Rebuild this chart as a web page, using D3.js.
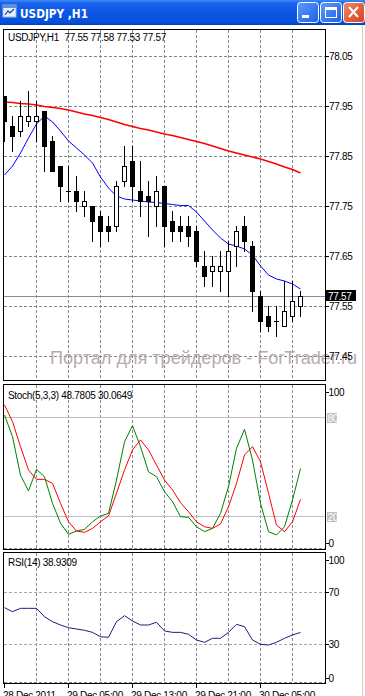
<!DOCTYPE html>
<html><head><meta charset="utf-8">
<script src="https://cdn.jsdelivr.net/npm/d3@7"></script>
<style>
html,body{margin:0;padding:0;background:#fff;overflow:hidden}
svg{display:block}
text{font-family:"Liberation Sans",Arial,sans-serif;}
</style>
</head><body>
<svg id="c" width="365" height="696"></svg>
<script>
// ---------- DATA ----------
const symbolTitle = "USDJPY ,H1";
const paneTitle = "USDJPY,H1";
const ohlcText = "77.55 77.58 77.53 77.57";
const openP  = [77.97,77.91,77.90,77.92,77.92,77.94,77.88,77.83,77.78,77.78,77.75,77.75,77.73,77.71,77.71,77.80,77.84,77.78,77.77,77.75,77.79,77.72,77.71,77.71,77.70,77.63,77.62,77.62,77.62,77.67,77.71,77.67,77.57,77.53,77.52,77.51,77.53,77.55];
const highP  = [77.97,77.93,77.96,77.98,77.96,77.94,77.89,77.83,77.83,77.81,77.78,77.75,77.74,77.73,77.80,77.87,77.87,77.84,77.80,77.81,77.79,77.74,77.73,77.73,77.71,77.66,77.65,77.66,77.68,77.71,77.73,77.68,77.58,77.55,77.55,77.60,77.60,77.58];
const lowP   = [77.88,77.86,77.89,77.91,77.88,77.82,77.82,77.76,77.76,77.74,77.73,77.68,77.67,77.68,77.70,77.79,77.76,77.73,77.69,77.71,77.67,77.68,77.68,77.67,77.63,77.59,77.59,77.58,77.57,77.63,77.66,77.54,77.50,77.50,77.49,77.51,77.52,77.53];
const closeP = [77.92,77.89,77.93,77.93,77.93,77.87,77.82,77.79,77.78,77.76,77.76,77.72,77.70,77.70,77.79,77.83,77.79,77.76,77.76,77.78,77.71,77.70,77.70,77.69,77.64,77.61,77.63,77.63,77.66,77.70,77.68,77.58,77.52,77.51,77.52,77.54,77.56,77.57];
const maFast = [77.812,77.830,77.856,77.886,77.914,77.930,77.918,77.900,77.880,77.866,77.852,77.836,77.808,77.786,77.770,77.764,77.762,77.760,77.758,77.757,77.755,77.753,77.751,77.751,77.738,77.720,77.702,77.686,77.674,77.670,77.664,77.652,77.630,77.612,77.604,77.600,77.594,77.584];
const maSlow = [77.958,77.957,77.955,77.954,77.952,77.949,77.947,77.945,77.942,77.938,77.934,77.931,77.927,77.923,77.918,77.913,77.909,77.905,77.902,77.898,77.894,77.891,77.887,77.883,77.879,77.875,77.870,77.865,77.860,77.856,77.852,77.848,77.844,77.839,77.834,77.828,77.823,77.816];
const stochMain = [81.2,68.1,44.8,35.2,48.3,43.8,27.7,15.6,8.9,10.9,11.9,16.5,20.0,21.6,41.8,65.0,74.7,62.0,46.8,43.8,34.7,28.7,19.6,19.2,13.5,10.5,12.5,21.6,37.8,61.0,72.5,53.9,27.7,10.5,8.5,13.5,29.7,48.78];
const stochSignal = [87.3,77.2,62.0,47.9,42.2,42.2,39.8,27.7,16.5,10.9,10.1,12.5,16.5,20.0,33.8,47.9,60.0,66.1,60.0,50.9,41.8,35.8,28.1,22.6,16.5,13.5,12.5,15.2,25.6,39.8,57.0,62.0,52.9,33.8,14.5,10.5,16.5,30.06];
const rsiVals = [58.1,55.0,57.6,57.6,57.6,51.1,47.3,44.7,42.6,41.6,40.6,39.0,35.6,35.2,47.3,51.9,47.8,44.7,44.7,46.8,40.1,39.0,39.0,37.5,33.1,31.3,34.4,34.4,39.0,45.2,43.4,33.1,29.8,29.2,31.3,34.4,37.0,38.93];
const priceTicks = [78.05,77.95,77.85,77.75,77.65,77.55,77.45];
const lastPrice = 77.57;
const stochLevels = [80,20];
const stochTitle = "Stoch(5,3,3) 48.7805 30.0649";
const rsiLevels = [70,30];
const rsiTitle = "RSI(14) 38.9309";
const timeTickIdx = [0,8,16,24,32];
const timeLabels = ["28 Dec 2011","29 Dec 05:00","29 Dec 13:00","29 Dec 21:00","30 Dec 05:00"];
const gridIdx = [4,8,12,16,20,24,28,32,36];
const watermark = "Портал для трейдеров - ForTrader.ru";

// ---------- LAYOUT ----------
const svg = d3.select("#c");
const L = 3, R = 325;
const main = {top:29, bottom:380};
const stP = {top:384, bottom:549};
const rsP = {top:552, bottom:683};
const gridCol = "#7a8898";

const x = d3.scaleLinear().domain([0,37]).range([4.5,300.5]);
const y = d3.scaleLinear().domain([77.45,78.05]).range([356,56]);
const ys = d3.scaleLinear().domain([0,100]).range([549,384]);
const yr = d3.scaleLinear().domain([0,100]).range([682.75,553.55]);
const px = v => Math.round(v) + 0.5;

// ---------- TITLE BAR ----------
const defs = svg.append("defs");
const tg = defs.append("linearGradient").attr("id","tb").attr("x1",0).attr("y1",0).attr("x2",0).attr("y2",1);
[["0%","#3b8cf8"],["12%","#1a64ec"],["50%","#0a56e4"],["88%","#0752dc"],["100%","#0340b8"]].forEach(s=>tg.append("stop").attr("offset",s[0]).attr("stop-color",s[1]));
const bg = defs.append("linearGradient").attr("id","btn").attr("x1",0).attr("y1",0).attr("x2",1).attr("y2",1);
[["0%","#5c9cff"],["100%","#1f5fe0"]].forEach(s=>bg.append("stop").attr("offset",s[0]).attr("stop-color",s[1]));
const cg = defs.append("linearGradient").attr("id","cls").attr("x1",0).attr("y1",0).attr("x2",1).attr("y2",1);
[["0%","#f08a68"],["100%","#d2401c"]].forEach(s=>cg.append("stop").attr("offset",s[0]).attr("stop-color",s[1]));

svg.append("rect").attr("x",0).attr("y",0).attr("width",365).attr("height",25).attr("fill","url(#tb)");
// icon
const ic = svg.append("g");
ic.append("rect").attr("x",3).attr("y",5).attr("width",13).attr("height",12).attr("fill","#e8f0ff").attr("stroke","#9fb8e8");
ic.append("rect").attr("x",3).attr("y",5).attr("width",13).attr("height",3).attr("fill","#6090d8");
ic.append("path").attr("d","M5,15 L8,11 L10,13 L14,9").attr("stroke","#1a3fa0").attr("fill","none").attr("stroke-width",1.2);
svg.append("text").attr("x",20).attr("y",18).attr("fill","#fff").attr("font-weight","bold").attr("font-size",12.5)
  .style("font-family","'DejaVu Sans',sans-serif").attr("textLength",68).attr("lengthAdjust","spacingAndGlyphs").text(symbolTitle);
// buttons
function btn(x0, fill){ return svg.append("rect").attr("x",x0+0.5).attr("y",2.5).attr("width",21).attr("height",20).attr("rx",3).attr("fill",fill).attr("stroke","#fff").attr("stroke-width",1); }
btn(297,"url(#btn)"); btn(320,"url(#btn)"); btn(343,"url(#cls)");
svg.append("rect").attr("x",302).attr("y",15).attr("width",7).attr("height",3).attr("fill","#fff");
svg.append("rect").attr("x",325.5).attr("y",7.5).attr("width",11).attr("height",10).attr("fill","none").attr("stroke","#fff");
svg.append("rect").attr("x",325).attr("y",7).attr("width",12).attr("height",3).attr("fill","#fff");
svg.append("path").attr("d","M349,7 L358,17 M358,7 L349,17").attr("stroke","#fff").attr("stroke-width",2);

// right window edge
svg.append("line").attr("x1",362.5).attr("x2",362.5).attr("y1",25).attr("y2",696).attr("stroke","#cfcfcf");

// ---------- PANES ----------
function paneFrame(p){
  svg.append("path").attr("d",`M${R+0.5},${p.top+0.5} H${L+0.5} V${p.bottom+0.5} H${R+0.5} V${p.top+0.5}`)
    .attr("fill","none").attr("stroke","#000").attr("shape-rendering","crispEdges");
}
function vGrid(p){
  svg.append("g").selectAll("line").data(gridIdx).join("line")
    .attr("x1",d=>px(x(d)-0.5)).attr("x2",d=>px(x(d)-0.5)).attr("y1",p.top+1).attr("y2",p.bottom)
    .attr("stroke",gridCol).attr("stroke-dasharray","3,2").attr("shape-rendering","crispEdges");
}
function smallText(t, xx, yy, opts={}){
  const e = svg.append("text").attr("x",xx).attr("y",yy).attr("font-size",10).attr("letter-spacing","-0.3px")
    .attr("fill",opts.fill||"#000").text(t);
  return e;
}

// main pane
const clipM = defs.append("clipPath").attr("id","cm");
clipM.append("rect").attr("x",L+1).attr("y",main.top+1).attr("width",R-L-1).attr("height",main.bottom-main.top-1);
vGrid(main);
svg.append("g").selectAll("line").data(priceTicks).join("line")
  .attr("x1",L+1).attr("x2",R).attr("y1",d=>px(y(d))).attr("y2",d=>px(y(d)))
  .attr("stroke",gridCol).attr("stroke-dasharray","3,2").attr("shape-rendering","crispEdges");

// watermark
svg.append("text").attr("x",50).attr("y",364).attr("font-size",18.5).attr("fill","#b9aaad")
  .attr("textLength",307).attr("lengthAdjust","spacingAndGlyphs").text(watermark);

// current price line
svg.append("line").attr("x1",L+1).attr("x2",R).attr("y1",px(y(lastPrice))-0.5).attr("y2",px(y(lastPrice))-0.5)
  .attr("stroke","#7f8fa0").attr("shape-rendering","crispEdges");

const gM = svg.append("g").attr("clip-path","url(#cm)");
// moving averages
const lineM = d3.line().x((d,i)=>x(i)).y(d=>y(d));
gM.append("path").datum(maSlow).attr("d",lineM).attr("fill","none").attr("stroke","#ff0000").attr("stroke-width",1.6);
gM.append("path").datum(maFast).attr("d",lineM).attr("fill","none").attr("stroke","#0000ff").attr("stroke-width",1);

// candles
const idx = d3.range(closeP.length);
const cg2 = gM.append("g").attr("shape-rendering","crispEdges");
cg2.selectAll("line.w").data(idx).join("line").attr("class","w")
  .attr("x1",i=>x(i)).attr("x2",i=>x(i))
  .attr("y1",i=>Math.round(y(highP[i]))).attr("y2",i=>Math.round(y(lowP[i]))+1)
  .attr("stroke","#000");
cg2.selectAll("rect.b").data(idx).join("rect").attr("class","b")
  .each(function(i){
    const o=openP[i], c=closeP[i];
    const t=Math.round(y(Math.max(o,c))), b=Math.round(y(Math.min(o,c)));
    const s=d3.select(this);
    if (c>o){
      s.attr("x",x(i)-2).attr("y",t+0.5).attr("width",4).attr("height",Math.max(b-t,1))
       .attr("fill","#fff").attr("stroke","#000");
    } else if (c<o){
      s.attr("x",x(i)-2.5).attr("y",t).attr("width",5).attr("height",Math.max(b-t+1,1)).attr("fill","#000");
    } else {
      s.attr("x",x(i)-2.5).attr("y",t).attr("width",5).attr("height",1).attr("fill","#000");
    }
  });

paneFrame(main);
// price axis labels
svg.append("g").selectAll("line").data(priceTicks).join("line")
  .attr("x1",R+1).attr("x2",R+4).attr("y1",d=>px(y(d))).attr("y2",d=>px(y(d))).attr("stroke","#000").attr("shape-rendering","crispEdges");
priceTicks.forEach(p=>smallText(p.toFixed(2), 329, Math.round(y(p))+4));
svg.append("rect").attr("x",326).attr("y",Math.round(y(lastPrice))-6).attr("width",30).attr("height",11).attr("fill","#000");
smallText(lastPrice.toFixed(2), 328, Math.round(y(lastPrice))+3.5, {fill:"#fff"});
smallText(paneTitle, 8, 41);
smallText(ohlcText, 64.5, 41);

// ---------- STOCH PANE ----------
vGrid(stP);
svg.append("line").attr("x1",L+1).attr("x2",R).attr("y1",stP.bottom-0.5).attr("y2",stP.bottom-0.5)
  .attr("stroke",gridCol).attr("stroke-dasharray","3,2").attr("shape-rendering","crispEdges");
svg.append("g").selectAll("line").data(stochLevels).join("line")
  .attr("x1",L+1).attr("x2",R).attr("y1",d=>px(ys(d))).attr("y2",d=>px(ys(d)))
  .attr("stroke","#c0c0c0").attr("shape-rendering","crispEdges");
const lineS = d3.line().x((d,i)=>x(i)).y(d=>ys(d));
svg.append("path").datum(stochMain).attr("d",lineS).attr("fill","none").attr("stroke","#008000").attr("stroke-width",1);
svg.append("path").datum(stochSignal).attr("d",lineS).attr("fill","none").attr("stroke","#ff0000").attr("stroke-width",1);
paneFrame(stP);
smallText(stochTitle, 8, 399);
[[100,391.7],[0,543.3]].forEach(([v,yy])=>{
  svg.append("line").attr("x1",R+1).attr("x2",R+4).attr("y1",Math.round(yy)+0.5).attr("y2",Math.round(yy)+0.5).attr("stroke","#000");
  smallText(String(v), 328.5, yy+3.8);
});
stochLevels.forEach(v=>{
  const yy = Math.round(ys(v));
  svg.append("rect").attr("x",327).attr("y",yy-4).attr("width",10).attr("height",10).attr("fill","#c0c0c0");
  smallText(String(v), 327.5, yy+4.5, {fill:"#fff"});
});

// ---------- RSI PANE ----------
vGrid(rsP);
svg.append("line").attr("x1",L+1).attr("x2",R).attr("y1",rsP.bottom-0.5).attr("y2",rsP.bottom-0.5)
  .attr("stroke",gridCol).attr("stroke-dasharray","3,2").attr("shape-rendering","crispEdges");
svg.append("g").selectAll("line").data(rsiLevels).join("line")
  .attr("x1",L+1).attr("x2",R).attr("y1",d=>px(yr(d))).attr("y2",d=>px(yr(d)))
  .attr("stroke","#a8a8a8").attr("stroke-dasharray","3,2").attr("shape-rendering","crispEdges");
const lineR = d3.line().x((d,i)=>x(i)).y(d=>yr(d));
svg.append("path").datum(rsiVals).attr("d",lineR).attr("fill","none").attr("stroke","#1c1c7c").attr("stroke-width",1);
paneFrame(rsP);
smallText(rsiTitle, 8, 565.5);
[[100,560],[70,592.3],[30,644],[0,677.7]].forEach(([v,yy])=>{
  svg.append("line").attr("x1",R+1).attr("x2",R+4).attr("y1",Math.round(yy)+0.5).attr("y2",Math.round(yy)+0.5).attr("stroke","#000");
  smallText(String(v), 328.5, yy+3.8);
});

// ---------- TIME AXIS ----------
timeTickIdx.forEach((k,i)=>{
  const xx = px(x(k)-1);
  svg.append("line").attr("x1",xx).attr("x2",xx).attr("y1",rsP.bottom).attr("y2",rsP.bottom+5).attr("stroke","#000").attr("shape-rendering","crispEdges");
  smallText(timeLabels[i], xx-1.5, 699);
});
</script>
</body></html>
